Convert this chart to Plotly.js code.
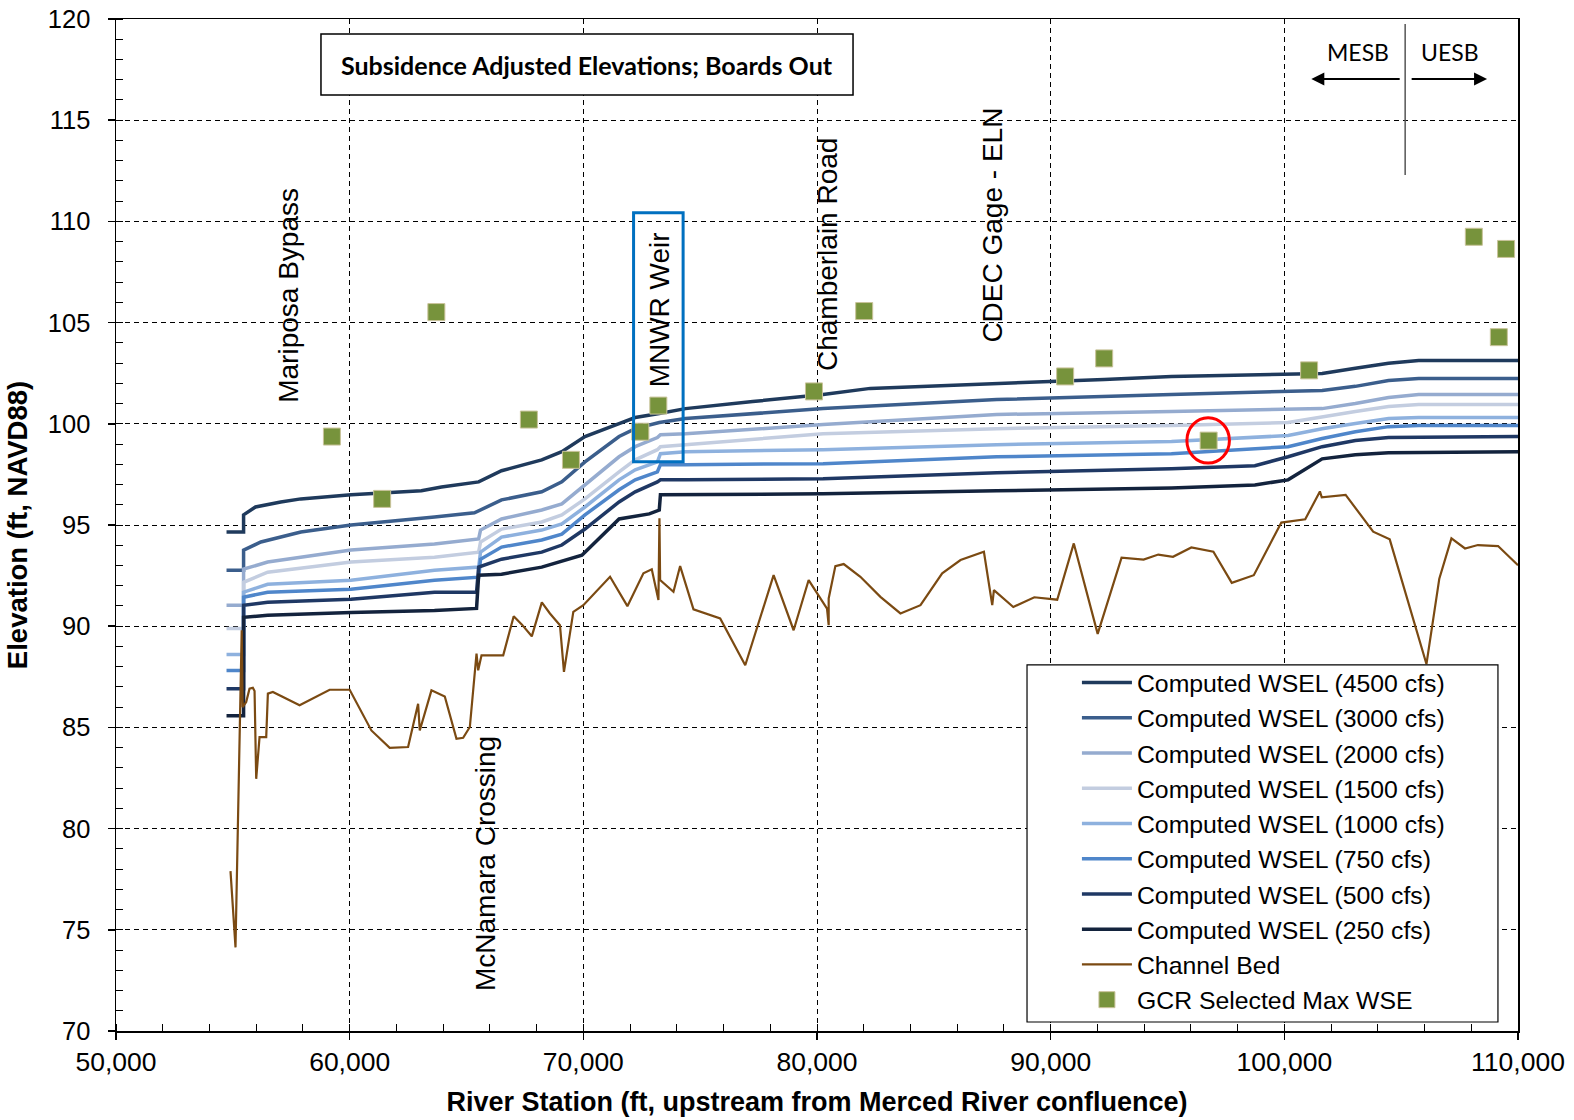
<!DOCTYPE html>
<html>
<head>
<meta charset="utf-8">
<script src="https://cdn.plot.ly/plotly-3.0.1.min.js"></script>
<style>html,body{margin:0;padding:0;background:#fff;}#chart{width:1574px;height:1120px;}</style>
</head>
<body>
<div id="chart"></div>
<script>
// ---------- DATA ----------
const seriesNames = ["Computed WSEL (4500 cfs)","Computed WSEL (3000 cfs)","Computed WSEL (2000 cfs)","Computed WSEL (1500 cfs)","Computed WSEL (1000 cfs)","Computed WSEL (750 cfs)","Computed WSEL (500 cfs)","Computed WSEL (250 cfs)"];

const x4500 = [54730,55460,55460,55970,57050,57910,60060,63070,63930,65520,66500,68220,69080,70070,71530,72220,73250,74370,77250,80260,82280,87990,90140,92290,95170,98740,100890,101620,103040,104460,105750,110000];
const y4500 = [94.65,94.65,95.50,95.89,96.14,96.29,96.49,96.69,96.88,97.13,97.68,98.22,98.62,99.37,100.01,100.31,100.51,100.75,101.10,101.45,101.75,101.99,102.09,102.19,102.34,102.44,102.49,102.49,102.74,102.99,103.13,103.13];

const x3000 = [54730,55460,55460,56200,57910,60060,63630,65340,66500,68220,69080,70070,71530,72220,73250,74370,80260,87690,95170,100160,101620,103040,104460,105750,110000];
const y3000 = [92.77,92.77,93.76,94.16,94.65,95.00,95.40,95.60,96.24,96.64,97.13,98.12,99.37,99.76,100.06,100.26,100.75,101.20,101.45,101.60,101.65,101.85,102.14,102.24,102.24];

const x2000 = [54730,55460,55460,56490,60060,63630,65520,65600,66500,68220,69080,70070,71530,72220,73170,73300,74370,80260,87690,95170,100160,101620,103040,104460,105750,110000];
const y2000 = [91.03,91.03,92.82,93.17,93.76,94.06,94.31,94.75,95.30,95.74,96.04,96.98,98.37,98.87,99.32,99.46,99.51,99.96,100.46,100.61,100.70,100.75,101.00,101.30,101.45,101.45];

const x1500 = [54730,55460,55460,56490,60060,63630,65520,65600,66500,68220,69080,70070,71530,72220,73170,73300,74370,80260,87690,95170,100160,101620,103040,104460,105750,110000];
const y1500 = [89.89,89.89,92.17,92.67,93.17,93.41,93.66,94.16,94.80,95.15,95.50,96.29,97.63,98.22,98.72,98.87,98.97,99.51,99.76,99.91,100.06,100.36,100.61,100.85,100.95,100.95];

const x1000 = [54730,55460,55460,56490,60060,63630,65520,65600,66500,68220,69080,70070,71530,72220,73170,73300,74370,80260,87690,95170,100160,101620,103040,104460,105750,110000];
const y1000 = [88.60,88.60,91.68,92.07,92.27,92.77,92.92,93.66,94.40,94.75,95.05,95.89,97.23,97.73,98.12,98.52,98.62,98.72,98.97,99.12,99.42,99.76,100.01,100.26,100.31,100.31];

const x750 = [54730,55460,55460,56490,60060,63630,65520,65600,66500,68220,69080,70070,71530,72220,73170,73300,74370,80260,87690,95170,100160,101620,103040,104460,105750,110000];
const y750 = [87.81,87.81,91.43,91.68,91.83,92.27,92.42,93.31,93.91,94.26,94.55,95.50,96.74,97.23,97.63,97.98,97.98,98.03,98.37,98.52,98.87,99.27,99.61,99.86,99.91,99.91];

const x500 = [54730,55460,55460,56490,60060,63630,65430,65520,66500,68220,69080,70070,71530,72220,73170,73300,74370,80260,87690,95170,98740,100160,101620,103040,104460,110000];
const y500 = [86.91,86.91,91.03,91.18,91.33,91.68,91.68,92.92,93.31,93.66,94.01,94.80,96.14,96.64,97.13,97.23,97.23,97.28,97.58,97.78,97.93,98.37,98.87,99.17,99.32,99.37];

const x250 = [54730,55460,55460,56490,60060,63630,65430,65520,66500,68220,69940,71530,72820,73250,73300,80260,87690,95170,98740,100160,101620,103040,104460,110000];
const y250 = [85.58,85.58,90.44,90.54,90.68,90.78,90.88,92.52,92.57,92.92,93.51,95.30,95.55,95.74,96.49,96.54,96.69,96.83,96.98,97.23,98.27,98.47,98.57,98.62];

const bedX = [54900,55114,55380,55420,55571,55714,55857,55930,56000,56143,56429,56500,56714,57857,59143,60000,60929,61714,62500,62929,63000,63500,64071,64571,64857,65143,65429,65500,65643,66571,67020,67364,67794,68224,68571,69000,69171,69571,70000,71143,71886,72571,72929,73214,73257,73286,73857,74143,74714,75857,76929,78143,79000,79643,80429,80500,80500,80786,81143,81857,82714,83571,84429,85357,86143,87143,87500,87571,88400,89300,90280,90990,92012,93034,93977,94606,95235,96021,96964,97750,98693,99872,100894,101523,101601,102623,103802,104510,106082,106632,107151,107732,108282,109147,110000];
const bedY = [77.9,74.13,89.8,86.0,86.25,86.91,86.96,86.8,82.46,84.52,84.52,86.67,86.75,86.09,86.86,86.86,84.85,83.99,84.03,86.17,84.85,86.83,86.53,84.44,84.49,85.02,88.65,87.82,88.56,88.56,90.49,90.09,89.5,91.18,90.63,90.05,87.74,90.71,91.04,92.44,90.99,92.61,92.81,91.29,95.33,92.28,91.70,92.97,90.83,90.38,88.07,92.52,89.80,92.28,90.87,90.05,91.37,92.97,93.07,92.44,91.45,90.63,91.04,92.61,93.27,93.68,91.04,91.78,90.95,91.43,91.31,94.09,89.62,93.39,93.29,93.54,93.43,93.89,93.68,92.14,92.52,95.12,95.28,96.66,96.37,96.49,94.67,94.29,88.13,92.35,94.34,93.84,94.01,93.96,93.01];

const gcrX = [59240,61390,63710,67670,69470,72440,73210,79870,82020,90620,92290,96760,101060,108110,109490,109180];
const gcrY = [99.37,96.29,105.52,100.21,98.22,99.61,100.90,101.60,105.57,102.34,103.23,99.17,102.64,109.24,108.64,104.28];

const xTickLabels = ["50,000","60,000","70,000","80,000","90,000","100,000","110,000"];
const xTickVals = [50000,60000,70000,80000,90000,100000,110000];

const siteLabels = ["Mariposa Bypass","McNamara Crossing","MNWR Weir","Chamberlain Road","CDEC Gage - ELN"];
const siteX = [57350,65817,73252,80430,87522];
const siteY = [106.36,78.28,105.62,108.34,109.83];

// ---------- STYLE ----------
const wselColors = ['#1F3A5C','#3B5E8C','#95ABCF','#C3CDE0','#8EB1DE','#4F86CA','#1F3864','#13233D'];
const wselX = [x4500,x3000,x2000,x1500,x1000,x750,x500,x250];
const wselY = [y4500,y3000,y2000,y1500,y1000,y750,y500,y250];

const traces = seriesNames.map((n,i)=>({
  type:'scatter', mode:'lines', name:n, x:wselX[i], y:wselY[i],
  line:{color:wselColors[i], width:3.5}
}));
traces.push({type:'scatter', mode:'lines', name:'Channel Bed', x:bedX, y:bedY, line:{color:'#7B4A12', width:2.2}});
traces.push({type:'scatter', mode:'markers', name:'GCR Selected Max WSE', x:gcrX, y:gcrY,
  marker:{symbol:'square', size:17, color:'#77933C', line:{color:'#C9C39A', width:1}}});

const FONT = 'Liberation Sans, Arial, sans-serif';
const annotations = siteLabels.map((t,i)=>({
  xref:'x', yref:'y', x:siteX[i], y:siteY[i], text:t, textangle:-90, showarrow:false,
  xanchor:'center', yanchor:'middle', font:{family:FONT, size:28, color:'#000'}
}));
annotations.push({xref:'paper', yref:'paper', x:0.336, y:0.955, xanchor:'center', yanchor:'middle', text:'<b>Subsidence Adjusted Elevations; Boards Out</b>',
  showarrow:false, font:{family:'Lato, sans-serif', size:25, color:'#000'}});
annotations.push({xref:'x', yref:'y', x:103162, y:118.37, xanchor:'center', yanchor:'middle', text:'MESB', showarrow:false, font:{family:'Lato, sans-serif', size:23, color:'#000'}});
annotations.push({xref:'x', yref:'y', x:107094, y:118.37, xanchor:'center', yanchor:'middle', text:'UESB', showarrow:false, font:{family:'Lato, sans-serif', size:23, color:'#000'}});
annotations.push({xref:'x', yref:'y', axref:'x', ayref:'y', x:101154, y:117.04, ax:105000, ay:117.04, text:'', showarrow:true, arrowhead:2, arrowsize:1.3, arrowwidth:2, arrowcolor:'#000'});
annotations.push({xref:'x', yref:'y', axref:'x', ayref:'y', x:108675, y:117.04, ax:105385, ay:117.04, text:'', showarrow:true, arrowhead:2, arrowsize:1.3, arrowwidth:2, arrowcolor:'#000'});

const shapes = [
  {type:'rect', xref:'paper', yref:'paper', x0:0.1462, x1:0.5257, y0:0.9249, y1:0.9852, fillcolor:'#fff', line:{color:'#000', width:1.5}, layer:'above'},
  {type:'rect', xref:'paper', yref:'paper', x0:0.6498, x1:0.9857, y0:0.0089, y1:0.3617, fillcolor:'#fff', line:{color:'#000', width:1.2}, layer:'above'},
  {type:'line', xref:'x', yref:'y', x0:105171, x1:105171, y0:112.29, y1:119.75, line:{color:'#555', width:1.5}},
  {type:'rect', xref:'x', yref:'y', x0:72150, x1:74270, y0:98.12, y1:110.43, line:{color:'#0070C0', width:3}},
  {type:'circle', xref:'x', yref:'y', x0:95830, x1:97650, y0:98.06, y1:100.30, line:{color:'#FF0000', width:3}}
];

const layout = {
  width:1574, height:1120,
  margin:{l:116, r:56, t:19, b:89, pad:0},
  paper_bgcolor:'#fff', plot_bgcolor:'#fff',
  font:{family:FONT, color:'#000'},
  showlegend:true,
  legend:{x:0.6854, y:0.3667, xanchor:'left', yanchor:'top', bgcolor:'rgba(0,0,0,0)', borderwidth:0,
    font:{family:FONT, size:24.8, color:'#000'}, tracegroupgap:0, itemwidth:50},
  xaxis:{range:[50000,110000], tickvals:xTickVals, ticktext:xTickLabels, showgrid:true, gridcolor:'#000', griddash:'5px,4px', gridwidth:1,
    showline:true, linecolor:'#000', linewidth:1.5, mirror:true, zeroline:false,
    ticks:'outside', ticklen:7, tickwidth:1.5, tickcolor:'#000', tickfont:{family:FONT, size:26.5, color:'#000'},
    minor:{dtick:2000, tick0:50000, ticks:'inside', ticklen:7, tickwidth:1, tickcolor:'#000', showgrid:false},
    title:{text:'<b>River Station (ft, upstream from Merced River confluence)</b>', font:{family:FONT, size:27, color:'#000'}, standoff:16},
    automargin:false},
  yaxis:{range:[70,120], dtick:5, tick0:70, showgrid:true, gridcolor:'#000', griddash:'5px,4px', gridwidth:1,
    showline:true, linecolor:'#000', linewidth:1.5, mirror:true, zeroline:false,
    ticks:'outside', ticklen:7, tickwidth:1.5, tickcolor:'#000', tickfont:{family:FONT, size:25.5, color:'#000'}, ticklabelstandoff:12,
    minor:{dtick:1, tick0:70, ticks:'inside', ticklen:7, tickwidth:1, tickcolor:'#000', showgrid:false},
    title:{text:'<b>Elevation (ft, NAVD88)</b>', font:{family:FONT, size:27.5, color:'#000'}, standoff:12},
    automargin:false},
  annotations:annotations,
  shapes:shapes
};

Plotly.newPlot('chart', traces, layout, {displayModeBar:false, staticPlot:true});
</script>
</body>
</html>
